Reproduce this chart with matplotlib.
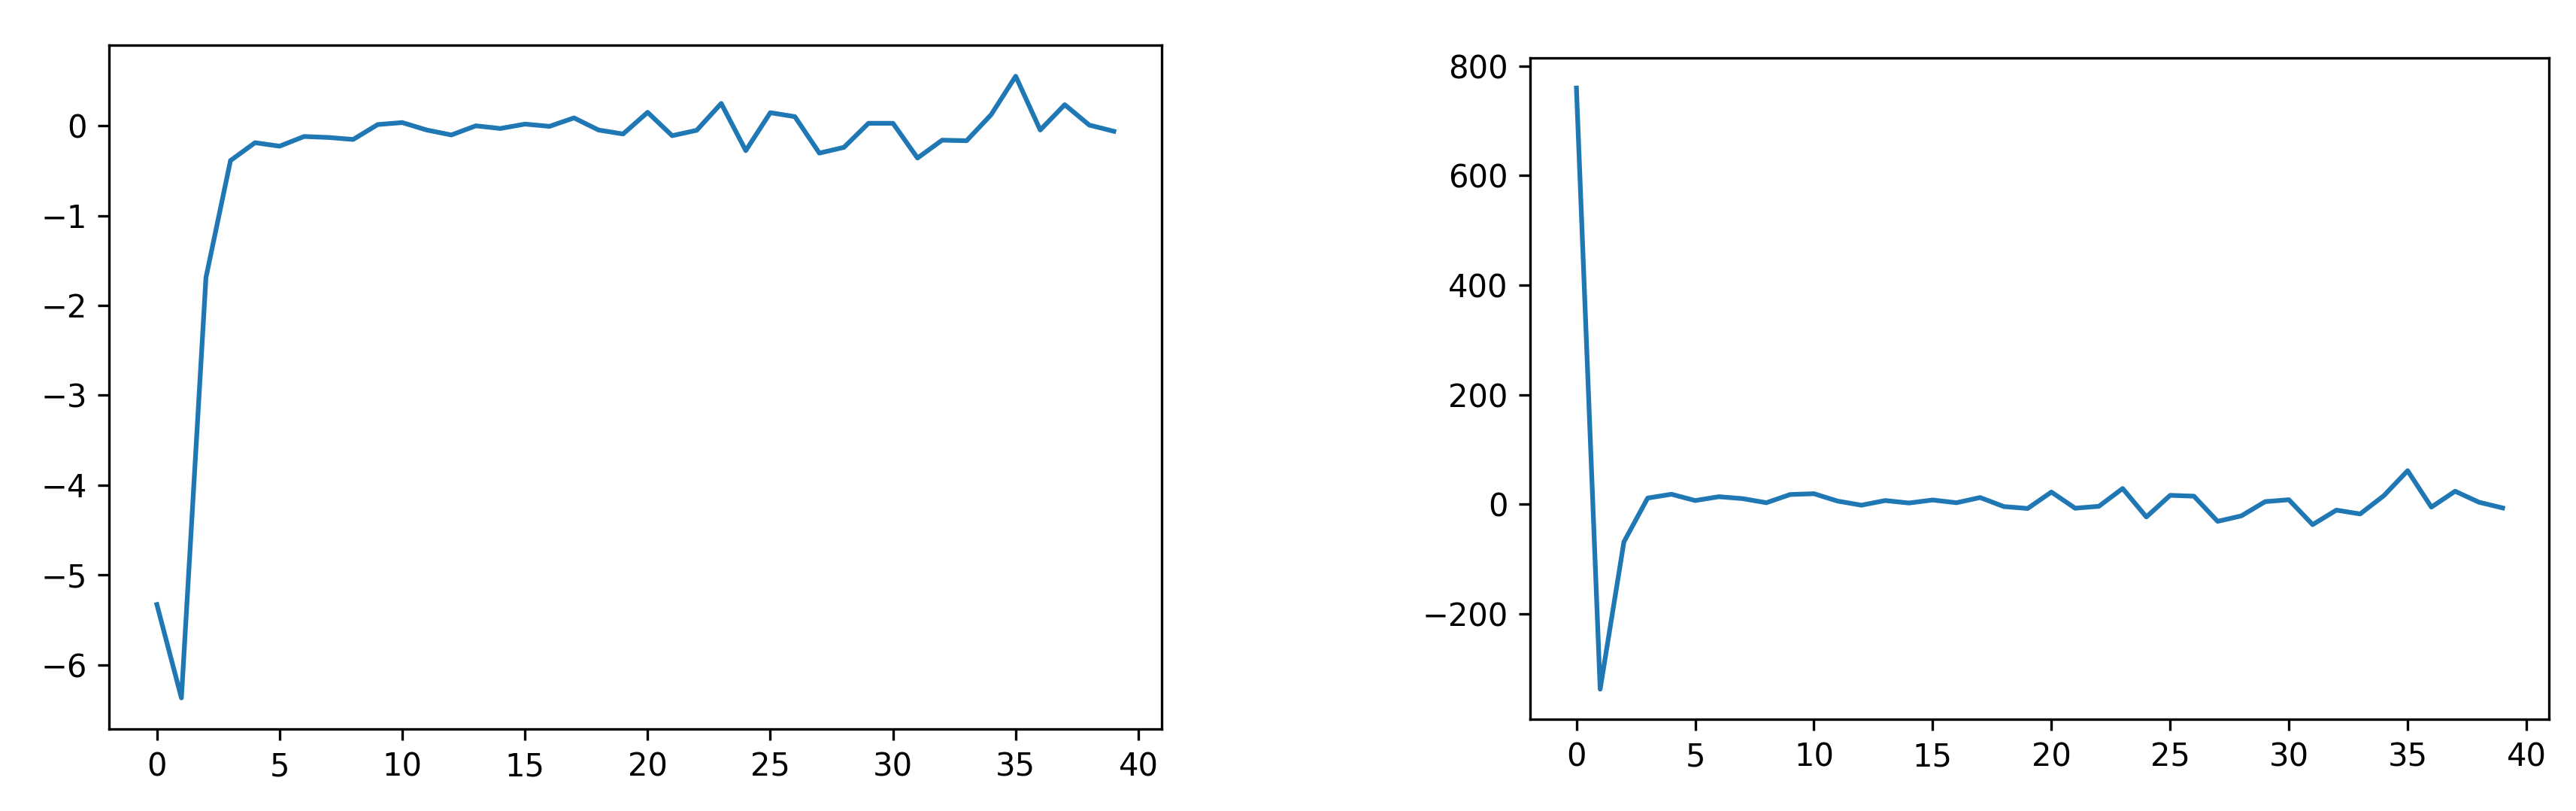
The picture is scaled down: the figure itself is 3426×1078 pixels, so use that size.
import matplotlib
matplotlib.use("Agg")
import matplotlib.pyplot as plt
import numpy as np

# x positions (epochs / steps)
steps = list(range(40))

# left panel values
left_values = [-5.33, -6.37, -1.69, -0.387, -0.188, -0.227, -0.119, -0.130, -0.152, 0.014,
               0.036, -0.047, -0.102, 0.0, -0.030, 0.019, -0.006, 0.088, -0.047, -0.091,
               0.150, -0.110, -0.050, 0.249, -0.276, 0.146, 0.102, -0.304, -0.240, 0.028,
               0.028, -0.359, -0.160, -0.166, 0.124, 0.552, -0.047, 0.235, 0.008, -0.061]

# right panel values
right_values = [760, -338, -69, 11, 18, 6.5, 13.5, 10, 2.5, 17.5,
                19, 5.5, -2, 6.5, 2, 7.5, 2.5, 12, -4.5, -8,
                22, -7.5, -4, 28.5, -23.5, 16, 14.5, -31.5, -21.5, 4.5,
                8, -37.5, -11, -18, 15.5, 61, -5.5, 23.5, 3.5, -7]

W, H = 3426, 1078
fig = plt.figure(figsize=(W / 300, H / 300), dpi=300)

def px_axes(x0, x1, y0, y1):
    return fig.add_axes([x0 / W, 1 - y1 / H, (x1 - x0) / W, (y1 - y0) / H])

ax1 = px_axes(145, 1545, 60, 969)
ax2 = px_axes(2035, 3390, 77, 956)

ax1.plot(steps, left_values, color="#1f77b4", linewidth=1.5)
ax2.plot(steps, right_values, color="#1f77b4", linewidth=1.5)

ax1.set_xticks([0, 5, 10, 15, 20, 25, 30, 35, 40])
ax2.set_xticks([0, 5, 10, 15, 20, 25, 30, 35, 40])

fig.savefig("out.png", dpi=300)
